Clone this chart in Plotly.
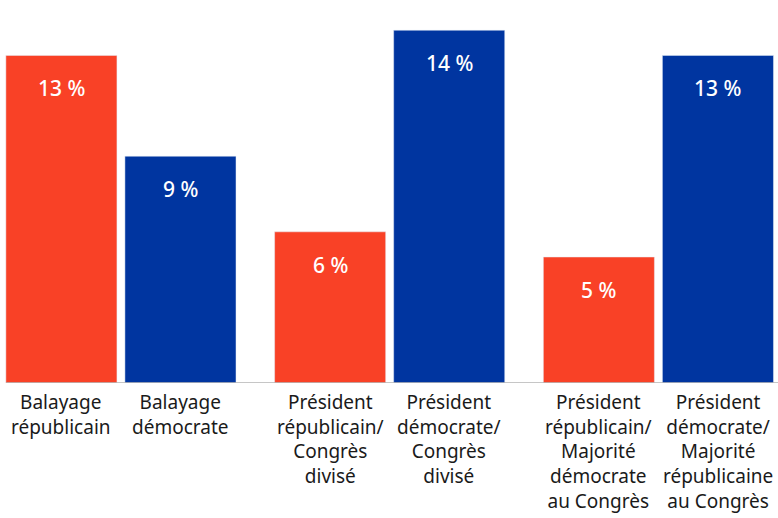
import plotly.graph_objects as go

groups = ["Balayage", "Président/Congrès divisé", "Président/Majorité opposée"]
rep_values = [13, 6, 5]
dem_values = [9, 14, 13]
rep_labels = ["Balayage<br>républicain",
              "Président<br>républicain/<br>Congrès<br>divisé",
              "Président<br>républicain/<br>Majorité<br>démocrate<br>au Congrès"]
dem_labels = ["Balayage<br>démocrate",
              "Président<br>démocrate/<br>Congrès<br>divisé",
              "Président<br>démocrate/<br>Majorité<br>républicaine<br>au Congrès"]

RED = "#F94126"
BLUE = "#0035A0"
FONT = "Noto Sans"

fig = go.Figure()
fig.add_bar(x=groups, y=rep_values, marker_color=RED, name="Républicain")
fig.add_bar(x=groups, y=dem_values, marker_color=BLUE, name="Démocrate")

slot_half = 59.5
ann = []
for i, g in enumerate(groups):
    for vals, labels, sh in ((rep_values, rep_labels, -slot_half), (dem_values, dem_labels, slot_half)):
        ann.append(dict(x=g, y=vals[i], xref="x", yref="y", xshift=sh, yshift=-33,
                        text=f"{vals[i]} %", showarrow=False, yanchor="middle",
                        font=dict(family=FONT, size=21, color="white", weight=500)))
        ann.append(dict(x=g, y=0, xref="x", yref="y", xshift=sh, yshift=-4,
                        text=labels[i], showarrow=False, yanchor="top", align="center",
                        font=dict(family=FONT, size=19, color="#1a1a1a")))

fig.update_layout(
    width=778, height=518,
    margin=dict(l=0, r=0, t=0, b=135),
    barmode="group", bargap=0.114, bargroupgap=0.067,
    showlegend=False,
    plot_bgcolor="white", paper_bgcolor="white",
    annotations=ann,
    shapes=[dict(type="line", xref="paper", yref="y", x0=0.008, x1=1, y0=0, y1=0,
                 line=dict(color="#b3b3b3", width=1.5))],
)
fig.update_xaxes(range=[-0.45, 2.445], showticklabels=False, showgrid=False, zeroline=False, showline=False)
fig.update_yaxes(range=[0, 15.2], visible=False)

fig.write_html("out.html", config={"displayModeBar": False},
               post_script="document.body.style.margin='0';document.body.style.overflow='hidden';")
